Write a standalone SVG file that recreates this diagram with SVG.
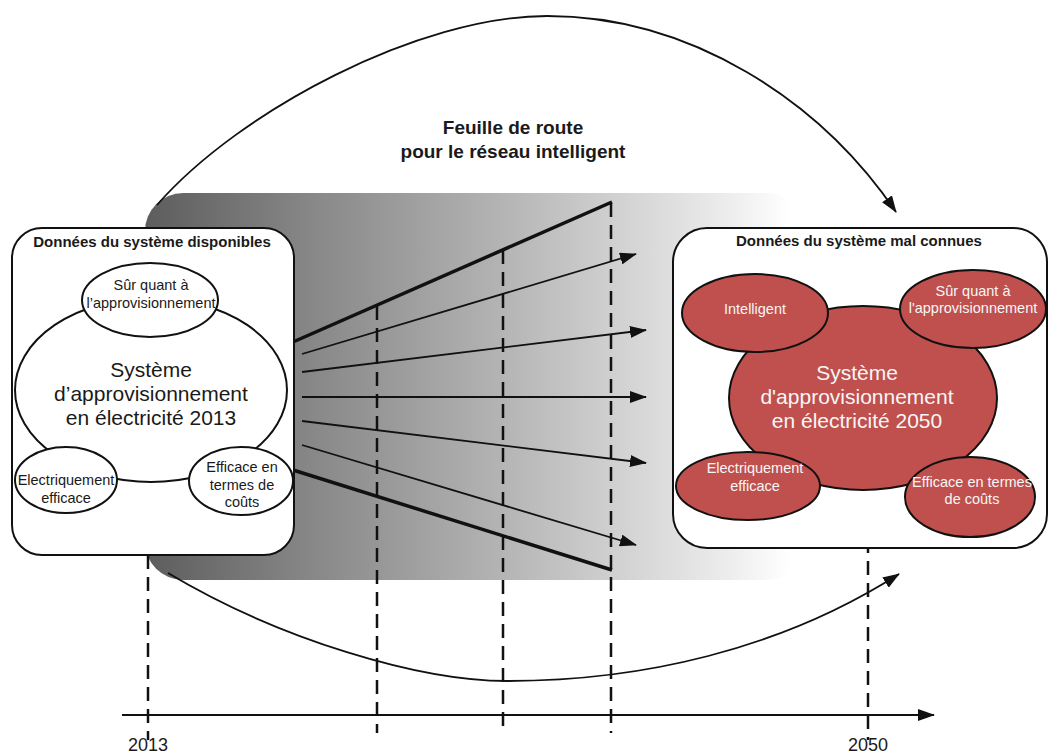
<svg xmlns="http://www.w3.org/2000/svg" width="1049" height="754" viewBox="0 0 1049 754">
<style>
text{font-family:"Liberation Sans",Arial,sans-serif;fill:#1a1a1a;text-anchor:middle}
.t{font-size:15px;font-weight:bold}
.s{font-size:14.5px}
.b{font-size:21px}
.w{fill:#f6f6f6}
.ttl{font-size:19px;font-weight:bold}
.yr{font-size:18px}
.dash{stroke:#111;stroke-width:2.5;stroke-dasharray:14 8;fill:none}
.ln{stroke:#111;stroke-width:1.8;fill:none}
.thick{stroke:#111;stroke-width:3.5;fill:none}
.box{fill:#fff;stroke:#111;stroke-width:2}
.we{fill:#fff;stroke:#111;stroke-width:2}
.re{fill:#c0504d;stroke:#111;stroke-width:2}
</style>
<defs>
<linearGradient id="band" gradientUnits="userSpaceOnUse" x1="150" y1="0" x2="790" y2="0">
<stop offset="0" stop-color="#5e5e5e"/>
<stop offset="0.25" stop-color="#878787"/>
<stop offset="0.55" stop-color="#b4b4b4"/>
<stop offset="0.78" stop-color="#d9d9d9"/>
<stop offset="0.9" stop-color="#ececec"/>
<stop offset="1" stop-color="#ffffff"/>
</linearGradient>
<marker id="ah" markerUnits="userSpaceOnUse" markerWidth="18" markerHeight="12" refX="16" refY="6" orient="auto">
<path d="M0,0 L17,6 L0,12 Z" fill="#111"/>
</marker>
</defs>
<rect id="band-bg" x="145" y="193" width="660" height="387" rx="38" fill="url(#band)"/>
<g id="connectors">
<path class="ln" d="M157,205 C240,110 420,16 547,16 C690,16 820,100 896,212" marker-end="url(#ah)"/>
<path class="ln" d="M168,573 C280,640 420,681 507,681 C640,681 780,650 899,574" marker-end="url(#ah)"/>
<line class="ln" x1="122" y1="715" x2="934" y2="715" stroke-width="2.2" marker-end="url(#ah)"/>
<line class="dash" x1="148" y1="555" x2="148" y2="740"/>
<line class="dash" x1="377" y1="306" x2="377" y2="733"/>
<line class="dash" x1="503" y1="250" x2="503" y2="733"/>
<line class="dash" x1="611" y1="203" x2="611" y2="733"/>
<line class="dash" x1="868" y1="495" x2="868" y2="740"/>
<line class="thick" x1="293" y1="342" x2="612" y2="202"/>
<line class="thick" x1="293" y1="470" x2="612" y2="570"/>
<line class="ln" x1="302" y1="354" x2="636" y2="254" marker-end="url(#ah)"/>
<line class="ln" x1="302" y1="372" x2="646" y2="330" marker-end="url(#ah)"/>
<line class="ln" x1="302" y1="397" x2="646" y2="397" marker-end="url(#ah)"/>
<line class="ln" x1="302" y1="421" x2="646" y2="463" marker-end="url(#ah)"/>
<line class="ln" x1="302" y1="445" x2="636" y2="545" marker-end="url(#ah)"/>
</g>
<g id="title">
<text class="ttl" x="513" y="134">Feuille de route</text>
<text class="ttl" x="513" y="158">pour le réseau intelligent</text>
</g>
<g id="box2013">
<rect class="box" x="12" y="228" width="282" height="327" rx="30"/>
<text class="t" x="152" y="247">Données du système disponibles</text>
<ellipse class="we" cx="151" cy="390" rx="136" ry="92"/>
<text class="b" x="151" y="377">Système</text>
<text class="b" x="151" y="401">d’approvisionnement</text>
<text class="b" x="151" y="425">en électricité 2013</text>
</g>
<g id="n2013-sur">
<ellipse class="we" cx="150" cy="300" rx="68" ry="37"/>
<text class="s" x="151" y="290">Sûr quant à</text>
<text class="s" x="151" y="308">l’approvisionnement</text>
</g>
<g id="n2013-elec">
<ellipse class="we" cx="66" cy="480" rx="51" ry="33"/>
<text class="s" x="66" y="485">Electriquement</text>
<text class="s" x="66" y="503">efficace</text>
</g>
<g id="n2013-cout">
<ellipse class="we" cx="241" cy="481" rx="52" ry="34"/>
<text class="s" x="242" y="472">Efficace en</text>
<text class="s" x="242" y="490">termes de</text>
<text class="s" x="242" y="507">coûts</text>
</g>
<g id="box2050">
<rect class="box" x="673" y="228" width="374" height="320" rx="34"/>
<text class="t" x="859" y="246">Données du système mal connues</text>
<ellipse class="re" cx="863" cy="398" rx="134" ry="92"/>
<text class="b w" x="857" y="380">Système</text>
<text class="b w" x="857" y="404">d'approvisionnement</text>
<text class="b w" x="857" y="428">en électricité 2050</text>
</g>
<g id="n2050-intel">
<ellipse class="re" cx="755" cy="313" rx="73" ry="39"/>
<text class="s w" x="755" y="314">Intelligent</text>
</g>
<g id="n2050-sur">
<ellipse class="re" cx="973" cy="309" rx="73" ry="39"/>
<text class="s w" x="973" y="296">Sûr quant à</text>
<text class="s w" x="973" y="313">l'approvisionnement</text>
</g>
<g id="n2050-elec">
<ellipse class="re" cx="748" cy="486" rx="72" ry="34"/>
<text class="s w" x="755" y="473">Electriquement</text>
<text class="s w" x="755" y="491">efficace</text>
</g>
<g id="n2050-cout">
<ellipse class="re" cx="970" cy="497" rx="65" ry="40"/>
<text class="s w" x="972" y="487">Efficace en termes</text>
<text class="s w" x="972" y="504">de coûts</text>
</g>
<g id="years">
<text class="yr" x="148" y="751">2013</text>
<text class="yr" x="868" y="751">2050</text>
</g>
</svg>
